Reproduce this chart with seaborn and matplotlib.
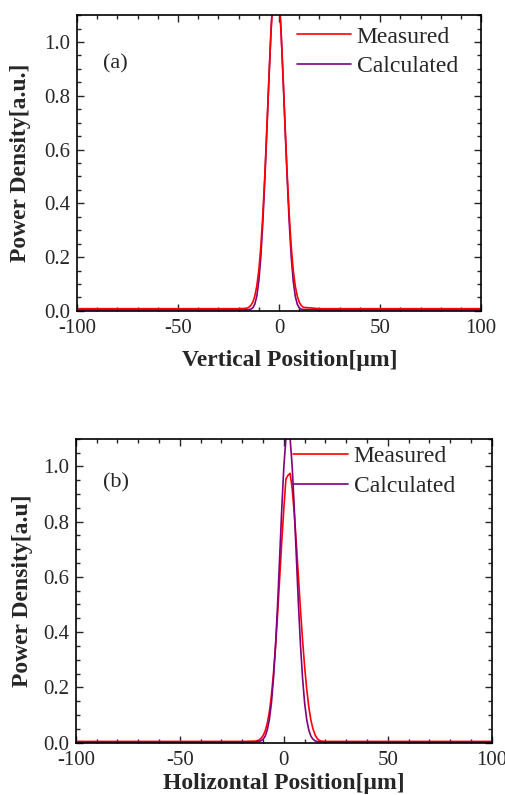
"""
Beam profile at focus: measured vs calculated power density,
(a) vertical and (b) horizontal cut.
"""
import matplotlib
matplotlib.use("Agg")
import matplotlib.pyplot as plt
from matplotlib.ticker import MultipleLocator, FormatStrFormatter
import pandas as pd
import seaborn as sns

# (a) vertical cut
x_vert = [-100, -30, -20, -17, -16, -15, -14, -13, -12, -11, -10, -9, -8, -7,
          -6, -5, -4, -3, -2, -1, 0, 1, 2, 3, 4, 5, 6, 7, 8, 9, 10, 11, 12,
          20, 30, 100]
meas_vert = [0.008, 0.008, 0.008, 0.009, 0.010, 0.013, 0.020, 0.032, 0.055,
             0.093, 0.152, 0.240, 0.361, 0.512, 0.687, 0.866, 1.035, 1.165,
             1.235, 1.235, 1.165, 1.035, 0.866, 0.687, 0.512, 0.361, 0.240,
             0.152, 0.093, 0.055, 0.032, 0.020, 0.013, 0.008, 0.008, 0.008]
calc_vert = [0.004, 0.004, 0.004, 0.004, 0.004, 0.005, 0.006, 0.011, 0.025,
             0.055, 0.112, 0.203, 0.333, 0.495, 0.675, 0.865, 1.040, 1.180,
             1.255, 1.255, 1.180, 1.040, 0.865, 0.675, 0.495, 0.333, 0.203,
             0.112, 0.055, 0.025, 0.011, 0.006, 0.005, 0.004, 0.004, 0.004]

# (b) horizontal cut
x_hor = [-100, -30, -20, -14, -13, -12, -11, -10, -9, -8, -7, -6, -5, -4, -3,
         -2, -1, 0, 1, 2, 3, 4, 5, 6, 7, 8, 9, 10, 11, 12, 13, 14, 15, 16, 17,
         18, 20, 30, 100]
meas_hor = [0.004, 0.004, 0.004, 0.005, 0.006, 0.009, 0.015, 0.025, 0.042,
            0.069, 0.110, 0.170, 0.250, 0.350, 0.468, 0.598, 0.730, 0.850,
            0.955, 0.968, 0.975, 0.920, 0.830, 0.720, 0.600, 0.480, 0.370,
            0.273, 0.193, 0.128, 0.081, 0.049, 0.028, 0.015, 0.008, 0.005,
            0.004, 0.004, 0.004]
calc_hor = [0.002, 0.002, 0.002, 0.002, 0.003, 0.004, 0.006, 0.012, 0.023,
            0.045, 0.082, 0.142, 0.232, 0.352, 0.501, 0.674, 0.848, 1.000,
            1.103, 1.140, 1.103, 1.000, 0.848, 0.674, 0.501, 0.352, 0.232,
            0.142, 0.082, 0.045, 0.023, 0.012, 0.006, 0.004, 0.003, 0.002,
            0.002, 0.002, 0.002]

RED = "#ff0000"
PURPLE = "#800080"

sns.set_style("ticks")
plt.rcParams["font.family"] = ["Liberation Serif", "DejaVu Serif"]
plt.rcParams["axes.unicode_minus"] = False

fig = plt.figure(figsize=(5.06, 7.95), dpi=100)
ax_a = fig.add_axes([0.152, 0.609, 0.799, 0.372])
ax_b = fig.add_axes([0.150, 0.066, 0.822, 0.382])

df_a = pd.DataFrame({"x": x_vert, "meas": meas_vert, "calc": calc_vert})
df_b = pd.DataFrame({"x": x_hor, "meas": meas_hor, "calc": calc_hor})

# top panel: red drawn over purple
sns.lineplot(data=df_a, x="x", y="calc", ax=ax_a, color=PURPLE, lw=1.2,
             label="Calculated")
sns.lineplot(data=df_a, x="x", y="meas", ax=ax_a, color=RED, lw=1.2,
             label="Measured")
# bottom panel: purple drawn over red
sns.lineplot(data=df_b, x="x", y="meas", ax=ax_b, color=RED, lw=1.2,
             label="Measured")
sns.lineplot(data=df_b, x="x", y="calc", ax=ax_b, color=PURPLE, lw=1.2,
             label="Calculated")

panels = [(ax_a, "(a)", 0.835, "Vertical Position[\u03bcm]", 0.527, -0.133,
           "Power Density[a.u.]", -0.114, 0.52, 0.995),
          (ax_b, "(b)", 0.855, "Holizontal Position[\u03bcm]", 0.5, -0.099,
           "Power Density[a.u]", -0.103, 0.50, 1.009)]

for ax, tag, ty, xlab, xlx, xly, ylab, ylx, legx, legy in panels:
    ax.set_xlim(-100, 100)
    ax.set_ylim(0, 1.1)
    ax.xaxis.set_major_locator(MultipleLocator(50))
    ax.xaxis.set_minor_locator(MultipleLocator(10))
    ax.yaxis.set_major_locator(MultipleLocator(0.2))
    ax.yaxis.set_minor_locator(MultipleLocator(0.05))
    ax.yaxis.set_major_formatter(FormatStrFormatter("%.1f"))
    ax.tick_params(which="both", direction="in", top=True, right=True,
                   labelsize=15, width=1.0)
    ax.tick_params(axis="x", which="both", pad=6)
    ax.tick_params(axis="y", which="both", pad=5)
    ax.tick_params(which="major", length=5)
    ax.tick_params(which="minor", length=3)
    for sp in ax.spines.values():
        sp.set_linewidth(1.2)
        sp.set_color("black")
    ax.set_xlabel(xlab, fontsize=17, fontweight="bold")
    ax.xaxis.set_label_coords(xlx, xly)
    ax.set_ylabel(ylab, fontsize=17, fontweight="bold")
    ax.yaxis.set_label_coords(ylx, 0.5)
    ax.text(0.064, ty, tag, transform=ax.transAxes, fontsize=16,
            va="center", ha="left")

    handles, labels = ax.get_legend_handles_labels()
    order = [labels.index("Measured"), labels.index("Calculated")]
    ax.legend([handles[i] for i in order], [labels[i] for i in order],
              loc="upper left", bbox_to_anchor=(legx, legy), frameon=False,
              fontsize=17, handlelength=2.3, handletextpad=0.25,
              labelspacing=0.35, borderaxespad=0.0)

fig.savefig("out.png", dpi=100)
